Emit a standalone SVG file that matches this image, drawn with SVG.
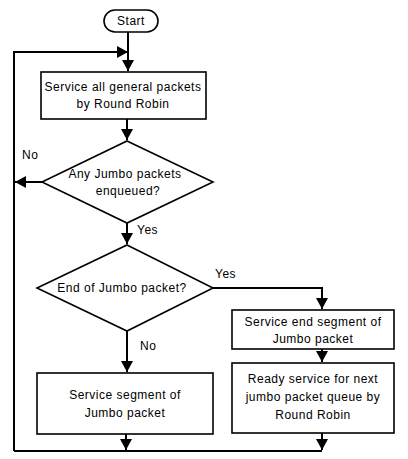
<svg xmlns="http://www.w3.org/2000/svg" width="408" height="459" viewBox="0 0 408 459">
<defs>
<style>
.s{fill:#fff;stroke:#000;stroke-width:1.6}
.c{fill:none;stroke:#000;stroke-width:2}
.t{font-family:"Liberation Sans",Arial,sans-serif;font-size:12px;letter-spacing:0.5px;fill:#000;text-anchor:middle}
.l{font-family:"Liberation Sans",Arial,sans-serif;font-size:12px;letter-spacing:0.5px;fill:#000}
</style>
<marker id="a" markerUnits="userSpaceOnUse" markerWidth="12" markerHeight="12" viewBox="0 0 12 12" refX="11" refY="6" orient="auto">
<path d="M0,0 L11,6 L0,12 Z" fill="#000"/>
</marker>
</defs>
<rect width="408" height="459" fill="#fff"/>
<g id="connectors">
<path class="c" d="M128,32 V71" marker-end="url(#a)"/>
<path class="c" d="M14,451 V52 H128" marker-end="url(#a)"/>
<path class="c" d="M127,119 V140" marker-end="url(#a)"/>
<path class="c" d="M42,182 H15" marker-end="url(#a)"/>
<path class="c" d="M127,223 V244" marker-end="url(#a)"/>
<path class="c" d="M213,288 H322 V309" marker-end="url(#a)"/>
<path class="c" d="M322,349 V362" marker-end="url(#a)"/>
<path class="c" d="M127,331 V372" marker-end="url(#a)"/>
<path class="c" d="M126,434 V450" marker-end="url(#a)"/>
<path class="c" d="M322,433 V450" marker-end="url(#a)"/>
<path class="c" d="M14,451 H322"/>
<text class="l" x="22" y="159">No</text>
<text class="l" x="137" y="234">Yes</text>
<text class="l" x="215" y="278">Yes</text>
<text class="l" x="140" y="350">No</text>
</g>
<g id="start">
<rect class="s" x="104" y="10" width="54" height="22" rx="11"/>
<text class="t" x="131" y="25">Start</text>
</g>
<g id="box1">
<rect class="s" x="41" y="72" width="165" height="47"/>
<text class="t" x="123" y="91">Service all general packets</text>
<text class="t" x="123" y="108">by Round Robin</text>
</g>
<g id="diamond1">
<polygon class="s" points="127,141 213,182 127,223 42,182"/>
<text class="t" x="125" y="178">Any Jumbo packets</text>
<text class="t" x="128" y="195">enqueued?</text>
</g>
<g id="diamond2">
<polygon class="s" points="127,245 213,288 127,331 37,288"/>
<text class="t" x="122" y="292">End of Jumbo packet?</text>
</g>
<g id="box2">
<rect class="s" x="37" y="373" width="176" height="61"/>
<text class="t" x="125" y="399">Service segment of</text>
<text class="t" x="125" y="417">Jumbo packet</text>
</g>
<g id="box3">
<rect class="s" x="232" y="310" width="162" height="39"/>
<text class="t" x="313" y="326">Service end segment of</text>
<text class="t" x="313" y="343">Jumbo packet</text>
</g>
<g id="box4">
<rect class="s" x="232" y="363" width="162" height="70"/>
<text class="t" x="313" y="383">Ready service for next</text>
<text class="t" x="313" y="401">jumbo packet queue by</text>
<text class="t" x="313" y="419">Round Robin</text>
</g>
</svg>
